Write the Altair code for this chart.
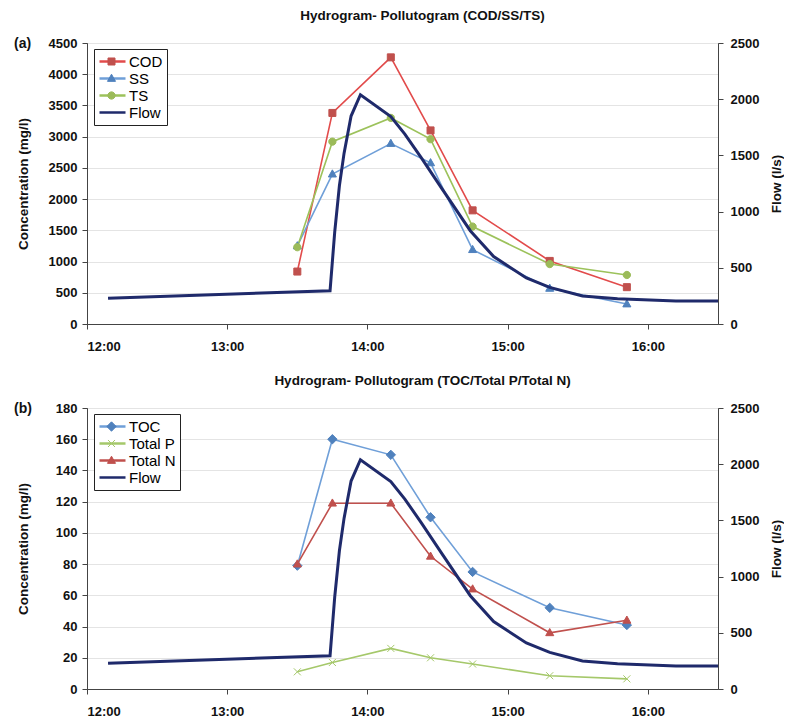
import math
import altair as alt
import pandas as pd

# ---------------- data ----------------
sample_times = ["13:30", "13:45", "14:10", "14:27", "14:45", "15:18", "15:51"]
cod = [840, 3380, 4270, 3100, 1820, 1010, 590]
ss = [1250, 2400, 2890, 2580, 1190, 570, 320]
ts = [1230, 2920, 3300, 2960, 1560, 960, 785]
toc = [79, 160, 150, 110, 75, 52, 41]
total_p = [11, 17, 26, 20, 16, 8.5, 6.5]
total_n = [80, 119, 119, 85, 64, 36, 44]

flow_times = ["12:09", "13:44", "13:46", "13:48", "13:50", "13:53", "13:57",
              "14:10", "14:16", "14:23", "14:32", "14:44", "14:54", "15:08",
              "15:18", "15:32", "15:47", "16:12", "16:30"]
flow = [228, 296, 820, 1230, 1520, 1850, 2040,
        1845, 1690, 1480, 1200, 830, 600, 410,
        326, 250, 225, 205, 205]

hour_ticks = [12, 13, 14, 15, 16]

NAVY = "#1F2A6B"
FONT = "Liberation Sans"


def hours(s):
    h, m = s.split(":")
    return int(h) + int(m) / 60.0


def poly(r, n):
    pts = [(r * math.cos(2 * math.pi * k / n), r * math.sin(2 * math.pi * k / n)) for k in range(n)]
    return "M" + "L".join(f"{x:.3f},{y:.3f}" for x, y in pts) + "Z"


SQUARE = "M-0.27,-0.27H0.27V0.27H-0.27Z"
TRIANGLE = "M0,-0.33L0.31,0.22H-0.31Z"
CIRCLE = poly(0.28, 16)
DIAMOND = "M0,-0.36L0.36,0L0,0.36L-0.36,0Z"
CROSS = "M-0.27,-0.27L0.27,0.27M-0.27,0.27L0.27,-0.27"

W, H = 631, 281


def panel(title, tag, names, series, line_cols, mark_cols, shapes, ymax, ystep):
    rows = [{"series": n, "hour": hours(t), "value": v}
            for n, vals in zip(names, series) for t, v in zip(sample_times, vals)]
    df = pd.DataFrame(rows)
    fdf = pd.DataFrame({"hour": [hours(t) for t in flow_times], "flow": flow,
                        "series": ["Flow"] * len(flow)})

    x = alt.X("hour:Q", scale=alt.Scale(domain=[12, 16.5], nice=False, zero=False),
              axis=alt.Axis(values=hour_ticks, labelExpr="floor(datum.value) + ':00'",
                            title=None, grid=False, labelPadding=11))
    y = alt.Y("value:Q", scale=alt.Scale(domain=[0, ymax], nice=False),
              axis=alt.Axis(values=list(range(0, ymax + 1, ystep)), format="d",
                            title="Concentration (mg/l)", grid=True,
                            titleX=-57, titleY=H / 2))

    leg = dict(title=None, orient="none", legendX=7, legendY=6, padding=4,
               clipHeight=17, rowPadding=0, symbolSize=676, labelFontSize=15,
               labelOffset=2, labelFont=FONT, labelFontWeight="normal", labelColor="black")

    color = alt.Color("series:N",
                      scale=alt.Scale(domain=names + ["Flow"], range=line_cols + [NAVY]),
                      legend=alt.Legend(symbolType="stroke", symbolStrokeWidth=2.5,
                                        strokeColor="#222", fillColor="white", **leg))

    lines = alt.Chart(df).mark_line(strokeWidth=1.6).encode(x=x, y=y, color=color)

    mleg = alt.Legend(labelExpr="''", symbolStrokeWidth=1, **leg)
    points = alt.Chart(df).mark_point(filled=True, size=676, opacity=1, strokeWidth=1).encode(
        x=x, y=y,
        fill=alt.Fill("series:N", scale=alt.Scale(domain=names, range=mark_cols), legend=mleg),
        stroke=alt.Stroke("series:N", scale=alt.Scale(domain=names, range=mark_cols), legend=mleg),
        shape=alt.Shape("series:N", scale=alt.Scale(domain=names, range=shapes), legend=mleg),
    )

    tagtext = alt.Chart(pd.DataFrame({"tag": [tag]})).mark_text(
        align="left", baseline="middle", fontSize=14, fontWeight="bold", font=FONT, color="#111"
    ).encode(x=alt.value(-73), y=alt.value(1), text="tag:N")

    flowline = alt.Chart(fdf).mark_line(strokeWidth=3).encode(
        x=x,
        y=alt.Y("flow:Q", scale=alt.Scale(domain=[0, 2500], nice=False),
                axis=alt.Axis(orient="right", values=list(range(0, 2501, 500)), format="d",
                              grid=False, title="Flow (l/s)", titleAngle=270, titlePadding=25,
                              labelPadding=7)),
        color=color,
    )

    left = alt.layer(lines, points, tagtext)
    return alt.layer(left, flowline).resolve_scale(y="independent").properties(
        width=W, height=H,
        title=alt.TitleParams(title, fontSize=13.5, fontWeight="bold", font=FONT,
                              dx=20, offset=15, color="#111"))


a = panel("Hydrogram- Pollutogram (COD/SS/TS)", "(a)", ["COD", "SS", "TS"],
          [cod, ss, ts], ["#E24B4B", "#6F9FD8", "#9CC25B"],
          ["#C0504D", "#4F81BD", "#9BBB59"], [SQUARE, TRIANGLE, CIRCLE], 4500, 500)
b = panel("Hydrogram- Pollutogram (TOC/Total P/Total N)", "(b)", ["TOC", "Total P", "Total N"],
          [toc, total_p, total_n], ["#6F9FD8", "#A5C86A", "#C0504D"],
          ["#4F81BD", "#A5C86A", "#C0504D"], [DIAMOND, CROSS, TRIANGLE], 180, 20)

chart = alt.vconcat(a, b, spacing=19).resolve_scale(
    color="independent", fill="independent", stroke="independent", shape="independent"
).properties(padding={"left": 5, "top": 0, "right": 0, "bottom": 0}).configure_view(
    stroke="#555", strokeWidth=1
).configure_axis(
    labelFont=FONT, labelFontSize=13, labelFontWeight="bold", labelColor="#111",
    titleFont=FONT, titleFontSize=13.5, titleFontWeight="bold", titleColor="#111",
    domainColor="#444", tickColor="#444", tickSize=5, gridColor="#E4E4E4"
).configure_axisY(labelPadding=5)

chart.save("out.html", embed_options={"renderer": "svg", "actions": False})
